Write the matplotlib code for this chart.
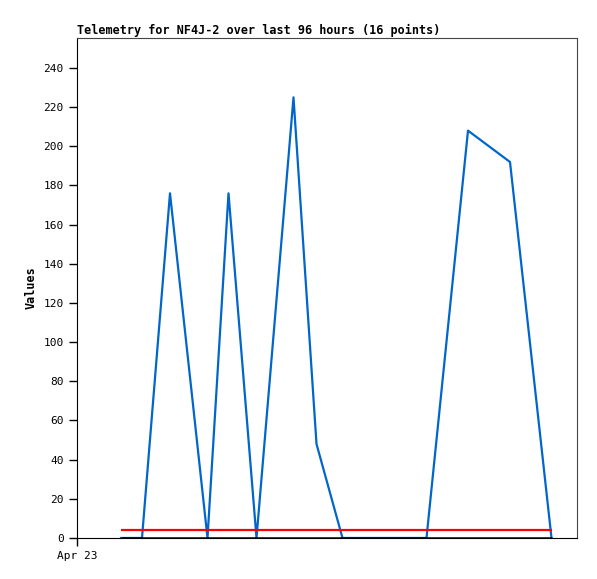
import matplotlib
matplotlib.use("Agg")
import matplotlib.pyplot as plt

# hours since Apr 23 00:00
hours = [8.8, 13.0, 18.6, 26.1, 30.3, 35.9, 43.3, 47.9, 53.1, 58.7, 64.3, 69.9, 78.2, 86.6, 94.9]
values = [0, 0, 176, 0, 176, 0, 225, 48, 0, 0, 0, 0, 208, 192, 0]
limit_high = [4] * len(hours)
baseline = [0] * len(hours)

title = "Telemetry for NF4J-2 over last 96 hours (16 points)"
ylabel = "Values"
yticks = list(range(0, 241, 20))
xtick_label = "Apr 23"

plt.rcParams["font.family"] = ["DejaVu Sans Mono"]

fig = plt.figure(figsize=(5.97, 5.79), dpi=100)
ax = fig.add_axes([77 / 597, 41 / 579, 500 / 597, 500 / 579])

ax.plot(hours, values, color="#0066cc", lw=1.6, zorder=2)
ax.plot(hours, limit_high, color="#ff0000", lw=1.6, solid_capstyle="butt", zorder=3)
ax.plot(hours, baseline, color="black", lw=1.8, solid_capstyle="butt", zorder=4)

ax.set_xlim(0, 100)
ax.set_ylim(0, 255.3)
ax.set_yticks(yticks)
ax.set_xticks([0])
ax.set_xticklabels([xtick_label])
ax.tick_params(labelsize=8, direction="out", length=6, width=1, color="black")

for side in ("top", "right"):
    ax.spines[side].set_color("#444444")
for side in ("left", "bottom"):
    ax.spines[side].set_color("black")

ax.set_title(title, loc="left", fontsize=8.5, fontweight="bold", pad=3)
ax.set_ylabel(ylabel, fontsize=8.5, fontweight="bold", labelpad=4)

fig.savefig("out.png", dpi=100)
